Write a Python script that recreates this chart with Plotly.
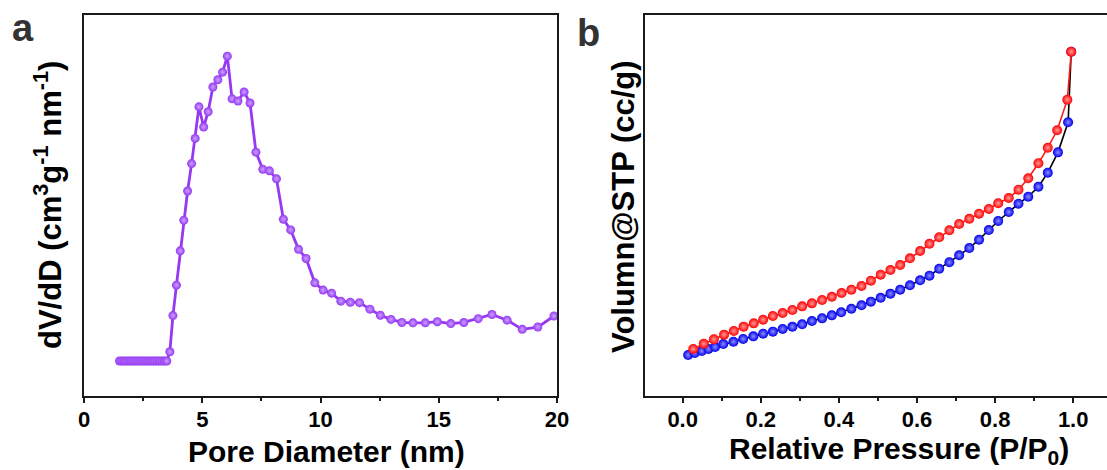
import plotly.graph_objects as go

W, H = 1107, 470

# ---------------- data: panel a (pore size distribution) ----------------
pore_d = [1.5, 1.6, 1.7, 1.8, 1.9, 2.0, 2.1, 2.2, 2.3, 2.4, 2.5, 2.6, 2.7, 2.8, 2.9,
          3.0, 3.1, 3.2, 3.3, 3.4, 3.5,
          3.63, 3.76, 3.91, 4.07, 4.22, 4.38, 4.55, 4.70, 4.86, 5.06, 5.25, 5.45,
          5.66, 5.86, 6.06, 6.26, 6.51, 6.77, 7.02, 7.27, 7.56, 7.84, 8.14, 8.43,
          8.74, 9.07, 9.39, 9.76, 10.11, 10.47, 10.86, 11.26, 11.65, 12.09, 12.53,
          12.98, 13.44, 13.91, 14.43, 14.94, 15.51, 16.06, 16.67, 17.25, 17.89,
          18.53, 19.19, 19.87]
dvdd = [9.2, 9.2, 9.2, 9.2, 9.2, 9.2, 9.2, 9.2, 9.2, 9.2, 9.2, 9.2, 9.2, 9.2, 9.2,
        9.2, 9.2, 9.2, 9.2, 9.2, 9.2,
        11.6, 21.1, 29.1, 38.1, 46.1, 53.8, 61.0, 67.6, 75.9, 70.6, 74.6, 81.1,
        83.0, 85.0, 89.2, 78.0, 77.4, 79.8, 76.9, 64.0, 59.5, 59.1, 57.0, 46.4,
        43.6, 38.5, 36.1, 29.7, 27.8, 27.0, 24.9, 24.6, 24.5, 22.8, 21.2,
        20.1, 19.3, 19.2, 19.2, 19.5, 19.0, 19.3, 20.3, 21.4, 19.9,
        17.5, 18.1, 21.0]

# ---------------- data: panel b (isotherm) ----------------
ads_p = [0.014, 0.031, 0.049, 0.066, 0.083, 0.104, 0.130, 0.155, 0.181, 0.206,
         0.231, 0.256, 0.281, 0.306, 0.331, 0.357, 0.382, 0.406, 0.432, 0.458,
         0.482, 0.507, 0.532, 0.557, 0.582, 0.608, 0.632, 0.657, 0.683, 0.708,
         0.734, 0.759, 0.784, 0.808, 0.835, 0.860, 0.885, 0.911, 0.935, 0.961,
         0.987, 0.995]
ads_v = [10.76, 11.29, 11.81, 12.34, 12.86, 13.65, 14.26, 14.96, 15.66, 16.36,
         16.89, 17.59, 18.20, 18.81, 19.69, 20.38, 21.17, 21.96, 22.91, 23.80,
         24.76, 25.80, 26.86, 27.90, 29.05, 30.36, 31.57, 33.41, 35.09, 36.93,
         38.85, 41.03, 43.57, 45.93, 48.29, 50.47, 52.31, 54.94, 58.61, 63.95,
         71.84, 90.37]
des_p = [0.995, 0.985, 0.959, 0.935, 0.911, 0.885, 0.860, 0.835, 0.808, 0.784,
         0.759, 0.734, 0.708, 0.683, 0.657, 0.632, 0.608, 0.582, 0.557, 0.532,
         0.507, 0.482, 0.458, 0.432, 0.407, 0.382, 0.357, 0.331, 0.306, 0.281,
         0.256, 0.231, 0.206, 0.182, 0.156, 0.131, 0.106, 0.080, 0.054, 0.027]
des_v = [90.37, 77.77, 69.74, 65.17, 61.08, 57.14, 54.15, 51.97, 50.58, 49.08,
         47.85, 46.54, 45.14, 43.49, 41.65, 39.97, 38.06, 36.14, 34.38, 33.07,
         31.84, 30.26, 28.87, 27.90, 27.03, 26.06, 25.20, 24.32, 23.53, 22.57,
         21.78, 21.00, 20.03, 19.07, 18.20, 17.06, 16.10, 14.87, 13.73, 12.34]

left_ticks = [0, 5, 10, 15, 20]

FONT = "Liberation Sans, Arial, sans-serif"
PURPLE = "#9638f2"

fig = go.Figure()

fig.add_trace(go.Scatter(
    x=pore_d, y=dvdd, mode="lines+markers", xaxis="x", yaxis="y",
    line=dict(color=PURPLE, width=2.8),
    marker=dict(size=9, color=PURPLE, line=dict(width=0),
                gradient=dict(type="radial", color="#c9a2ff")),
    showlegend=False, hoverinfo="skip"))

fig.add_trace(go.Scatter(
    x=ads_p, y=ads_v, mode="lines+markers", xaxis="x2", yaxis="y2",
    line=dict(color="black", width=1.6),
    marker=dict(size=10, color="#0000ee", line=dict(width=0),
                gradient=dict(type="radial", color="#8c8cff")),
    showlegend=False, hoverinfo="skip"))

fig.add_trace(go.Scatter(
    x=des_p, y=des_v, mode="lines+markers", xaxis="x2", yaxis="y2",
    line=dict(color="#ff1a1a", width=1.6),
    marker=dict(size=10, color="#ff0000", line=dict(width=0),
                gradient=dict(type="radial", color="#ff9a9a")),
    showlegend=False, hoverinfo="skip"))

ydom = [1 - 396 / H, 1 - 15 / H]
axis_common = dict(showgrid=False, zeroline=False, showline=True,
                   linecolor="#1a1a1a", linewidth=2, automargin=False)

tickfont = dict(family=FONT, size=22, color="black", weight="bold")

fig.update_layout(
    width=W, height=H,
    margin=dict(l=0, r=0, t=0, b=0, pad=0, autoexpand=False),
    paper_bgcolor="white", plot_bgcolor="white",
    xaxis=dict(domain=[84 / W, 557 / W], range=[0, 20], anchor="y",
               tickvals=left_ticks, ticks="outside", ticklen=5, tickwidth=1.5,
               tickcolor="#1a1a1a", mirror=True, tickfont=tickfont,
               ticklabelstandoff=-2,
               minor=dict(dtick=2.5, tick0=0, ticks="outside", ticklen=3,
                          tickwidth=1.5, tickcolor="#1a1a1a"),
               **axis_common),
    yaxis=dict(domain=ydom, range=[0, 100], anchor="x", showticklabels=False,
               ticks="", mirror=True, **axis_common),
    xaxis2=dict(domain=[645 / W, 1.0], range=[-0.0965, 1.0866], anchor="y2",
                tick0=0, dtick=0.2, tickformat=".1f", ticks="outside", ticklen=5,
                tickwidth=1.5, tickcolor="#1a1a1a", mirror=True, tickfont=tickfont,
                ticklabelstandoff=-2,
                minor=dict(dtick=0.1, tick0=0, ticks="outside", ticklen=3,
                           tickwidth=1.5, tickcolor="#1a1a1a"),
                **axis_common),
    yaxis2=dict(domain=ydom, range=[0, 100], anchor="x2", showticklabels=False,
                ticks="", mirror=False, **axis_common),
)

xtitle_font = dict(family=FONT, size=30, color="black", weight="bold")
ytitle_font = dict(family=FONT, size=31, color="black", weight="bold")


def ann(text, px, py, font, angle=0):
    fig.add_annotation(text=text, x=px / W, y=1 - py / H, xref="paper", yref="paper",
                       xanchor="center", yanchor="middle", showarrow=False,
                       font=font, textangle=angle)


ann("Pore Diameter (nm)", 326, 451, xtitle_font)
ann("Relative Pressure (P/P<sub>0</sub>)", 899, 450, xtitle_font)
ann("dV/dD (cm<sup>3</sup>g<sup>-1</sup> nm<sup>-1</sup>)", 48, 205, ytitle_font, -90)
ann("Volumn@STP (cc/g)", 623, 207, ytitle_font, -90)

label_font = dict(family=FONT, size=38, color="#333333", weight="bold")
ann("a", 23, 28, label_font)
ann("b", 588, 33, label_font)

fig.write_html("out.html")
